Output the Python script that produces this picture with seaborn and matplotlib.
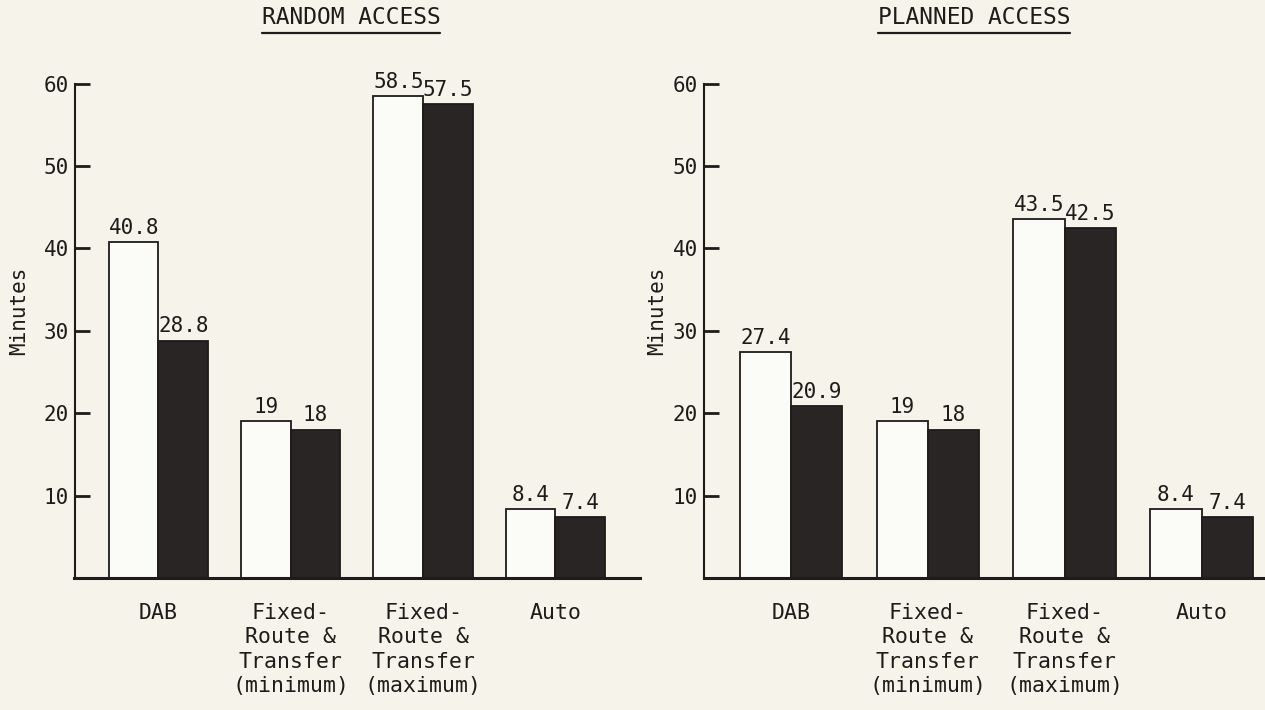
import matplotlib
matplotlib.use("Agg")
import matplotlib.pyplot as plt
import seaborn as sns
import pandas as pd
from matplotlib.lines import Line2D

categories = ["DAB", "Fixed-\nRoute &\nTransfer\n(minimum)",
              "Fixed-\nRoute &\nTransfer\n(maximum)", "Auto"]
series_names = ["Light", "Dark"]
random_light = [40.8, 19, 58.5, 8.4]
random_dark = [28.8, 18, 57.5, 7.4]
planned_light = [27.4, 19, 43.5, 8.4]
planned_dark = [20.9, 18, 42.5, 7.4]
panel_titles = ["RANDOM ACCESS", "PLANNED ACCESS"]
y_ticks = [10, 20, 30, 40, 50, 60]

BG = "#f5f3ea"
INK = "#1e1b1a"
DARK = "#2a2523"
LIGHT = "#fcfbf6"

sns.set_theme(style="white")
plt.rcParams["font.family"] = ["DejaVu Sans Mono", "DejaVu Sans"]

def make_df(light, dark):
    rows = []
    for c, a, b in zip(categories, light, dark):
        rows.append({"category": c, "series": series_names[0], "minutes": a})
        rows.append({"category": c, "series": series_names[1], "minutes": b})
    return pd.DataFrame(rows)

W, H = 1265, 710
fig = plt.figure(figsize=(12.65, 7.1), dpi=100, facecolor=BG)
# axes boxes in pixels: left, top(60), right, bottom(0)
ax1 = fig.add_axes([74.5 / W, 1 - 578 / H, (640 - 74.5) / W, (578 - 83.5) / H])
ax2 = fig.add_axes([703.5 / W, 1 - 578 / H, (1265 - 703.5) / W, (578 - 83.5) / H])

panels = [
    (ax1, make_df(random_light, random_dark), (-0.635, 3.64), (-0.08, 0.54)),
    (ax2, make_df(planned_light, planned_dark), (-0.64, 3.464), (-0.065, 0.54)),
]

for i, (ax, df, xl, lab_xy) in enumerate(panels):
    ax.set_facecolor(BG)
    sns.barplot(data=df, x="category", y="minutes", hue="series",
                palette=[LIGHT, DARK], edgecolor=INK, linewidth=1.3,
                width=0.75, legend=False, ax=ax, errorbar=None)
    for cont in ax.containers:
        ax.bar_label(cont, labels=[f"{v:g}" for v in cont.datavalues],
                     padding=3, fontsize=15, color=INK)
    ax.set_ylim(0, 60)
    ax.set_xlim(*xl)
    ax.set_yticks(y_ticks)
    ax.set_yticklabels([str(t) for t in y_ticks], fontsize=15, color=INK)
    ax.tick_params(axis="y", direction="in", length=11, width=2, color=INK,
                   pad=4, left=True)
    ax.tick_params(axis="x", length=0, pad=18, labelsize=15.5, labelcolor=INK)
    for lab in ax.get_xticklabels():
        lab.set_multialignment("center")
        lab.set_linespacing(1.28)
    for s in ["top", "right"]:
        ax.spines[s].set_visible(False)
    ax.spines["left"].set_color(INK)
    ax.spines["left"].set_linewidth(1.5)
    ax.spines["bottom"].set_color(INK)
    ax.spines["bottom"].set_linewidth(2.2)
    ax.set_xlabel("")
    ax.set_ylabel("Minutes", fontsize=15, color=INK)
    ax.yaxis.set_label_coords(*lab_xy)

# titles with underline
title_pos = [(351, 18), (974, 18)]
fig.canvas.draw()
renderer = fig.canvas.get_renderer()
for (px, py), t in zip(title_pos, panel_titles):
    txt = fig.text(px / W, 1 - py / H, t, ha="center", va="center",
                   fontsize=16.5, color=INK)
    bb = txt.get_window_extent(renderer=renderer)
    yline = 1 - 33 / H
    fig.add_artist(Line2D([bb.x0 / W, bb.x1 / W], [yline, yline],
                          transform=fig.transFigure, color=INK, lw=1.6))

fig.savefig("out.png", dpi=100, facecolor=BG)
